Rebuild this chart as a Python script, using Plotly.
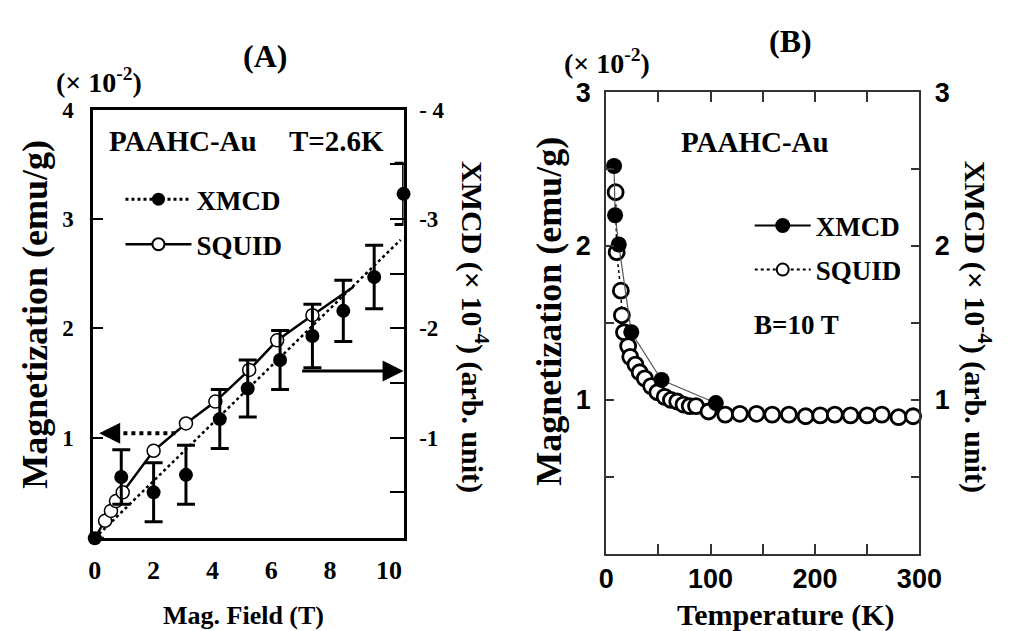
import plotly.graph_objects as go

W, H = 1019, 631
SERIF = "Liberation Serif"
SANS = "Liberation Sans"

# ---------------- Panel A data (Magnetization vs field, T=2.6K) ----------------
xmcd_A_field = [0.0, 0.9, 2.0, 3.1, 4.25, 5.2, 6.3, 7.4, 8.45, 9.5, 10.5]
xmcd_A_mag = [0.08, 0.64, 0.50, 0.66, 1.17, 1.45, 1.71, 1.93, 2.16, 2.47, 3.23]
xmcd_A_err = [0.0, 0.25, 0.27, 0.27, 0.27, 0.26, 0.27, 0.29, 0.28, 0.29, 0.28]

xmcd_fit_field = [0.0, 10.4]
xmcd_fit_mag = [0.08, 2.81]

squid_A_field = [0.35, 0.55, 0.72, 0.95, 2.0, 3.1, 4.1, 5.25, 6.2, 7.4]
squid_A_mag = [0.24, 0.33, 0.42, 0.50, 0.88, 1.13, 1.33, 1.62, 1.89, 2.12]
squid_line_start = (0.0, 0.08)
squid_line_end = (8.8, 2.38)

# ---------------- Panel B data (Magnetization vs temperature, B=10T) ----------------
xmcd_B_T = [7.5, 8.5, 12, 24, 53, 105]
xmcd_B_M = [2.52, 2.20, 2.01, 1.44, 1.13, 0.98]

squid_B_T = [9, 10, 14, 15, 17, 21, 23, 28, 32, 37, 43, 49, 56, 62, 68, 74, 80, 86,
             98, 114, 128, 144, 159, 175, 191, 205, 219, 234, 250, 264, 280, 294]
squid_B_M = [2.35, 1.96, 1.71, 1.55, 1.44, 1.35, 1.28, 1.23, 1.18, 1.14, 1.09, 1.05,
             1.02, 1.00, 0.99, 0.97, 0.96, 0.96, 0.925, 0.905, 0.91, 0.91, 0.905, 0.905,
             0.894, 0.90, 0.905, 0.90, 0.90, 0.905, 0.888, 0.894]

# tick labels
A_x_ticks = [0, 2, 4, 6, 8, 10]
A_left_ticks = [1, 2, 3, 4]
A_right_tickvals = [-0.5, -1, -1.5, -2, -2.5, -3, -3.5, -4]
A_right_ticktext = ["", "-1", "", "-2", "", "-3", "", "- 4"]
B_x_tickvals = [0, 50, 100, 150, 200, 250, 300]
B_x_ticktext = ["0", "", "100", "", "200", "", "300"]
B_y_tickvals = [0.5, 1, 1.5, 2, 2.5, 3]
B_y_ticktext = ["", "1", "", "2", "", "3"]


def px_x(p):
    return p / W


def px_y(p):
    return 1 - p / H


fig = go.Figure()

# ---- Panel A traces ----
fig.add_trace(go.Scatter(
    x=xmcd_fit_field, y=xmcd_fit_mag, mode="lines",
    line=dict(color="black", width=2.5, dash="dot"),
    xaxis="x", yaxis="y", showlegend=False, cliponaxis=False))

sq_line_x = [squid_line_start[0]] + squid_A_field + [squid_line_end[0]]
sq_line_y = [squid_line_start[1]] + squid_A_mag + [squid_line_end[1]]
fig.add_trace(go.Scatter(
    x=sq_line_x, y=sq_line_y, mode="lines",
    line=dict(color="black", width=2.5),
    xaxis="x", yaxis="y", showlegend=False, cliponaxis=False))

fig.add_trace(go.Scatter(
    x=squid_A_field, y=squid_A_mag, mode="markers",
    marker=dict(symbol="circle", size=13, color="white",
                line=dict(color="black", width=1.5)),
    xaxis="x", yaxis="y", showlegend=False, cliponaxis=False))

fig.add_trace(go.Scatter(
    x=xmcd_A_field, y=xmcd_A_mag, mode="markers",
    marker=dict(symbol="circle", size=14, color="black"),
    error_y=dict(type="data", array=xmcd_A_err, visible=True,
                 color="black", thickness=3, width=9),
    xaxis="x", yaxis="y", showlegend=False, cliponaxis=False))

# legend A samples
fig.add_trace(go.Scatter(
    x=[None], y=[None], mode="lines+markers", name="XMCD",
    line=dict(color="black", width=3, dash="dot"),
    marker=dict(symbol="circle", size=13, color="black"),
    xaxis="x", yaxis="y", legend="legend", legendgroup="a1"))
fig.add_trace(go.Scatter(
    x=[None], y=[None], mode="lines+markers", name="SQUID",
    line=dict(color="black", width=2.5),
    marker=dict(symbol="circle", size=12, color="white",
                line=dict(color="black", width=2)),
    xaxis="x", yaxis="y", legend="legend", legendgroup="a2"))

# secondary axis for A (dummy, reversed scale)
fig.add_trace(go.Scatter(x=[None], y=[None], xaxis="x", yaxis="y2",
                         showlegend=False, hoverinfo="skip"))

# ---- Panel B traces ----
fig.add_trace(go.Scatter(
    x=squid_B_T, y=squid_B_M, mode="lines+markers",
    line=dict(color="black", width=1.5, dash="dot"),
    marker=dict(symbol="circle", size=15, color="white",
                line=dict(color="black", width=2.8)),
    xaxis="x3", yaxis="y3", showlegend=False, cliponaxis=False))
fig.add_trace(go.Scatter(
    x=xmcd_B_T, y=xmcd_B_M, mode="lines+markers",
    line=dict(color="#555555", width=1.2),
    marker=dict(symbol="circle", size=16, color="black"),
    xaxis="x3", yaxis="y3", showlegend=False, cliponaxis=False))

fig.add_trace(go.Scatter(
    x=[None], y=[None], mode="lines+markers", name="XMCD",
    line=dict(color="black", width=2),
    marker=dict(symbol="circle", size=15, color="black"),
    xaxis="x3", yaxis="y3", legend="legend2", legendgroup="b1"))
fig.add_trace(go.Scatter(
    x=[None], y=[None], mode="lines+markers", name="SQUID",
    line=dict(color="black", width=2, dash="dot"),
    marker=dict(symbol="circle", size=12, color="white",
                line=dict(color="black", width=2)),
    xaxis="x3", yaxis="y3", legend="legend2", legendgroup="b2"))

fig.add_trace(go.Scatter(x=[None], y=[None], xaxis="x3", yaxis="y4",
                         showlegend=False, hoverinfo="skip"))

A_dom_x = [px_x(88), px_x(408)]
A_dom_y = [px_y(536), px_y(97)]
B_dom_x = [px_x(617), px_x(940)]
B_dom_y = [px_y(552), px_y(79)]

serif_tick = dict(family=SERIF, size=23, color="black", weight="bold")
sans_tick = dict(family=SANS, size=27, color="black", weight="bold")

fig.update_layout(
    width=W, height=H,
    margin=dict(l=0, r=0, t=0, b=0),
    paper_bgcolor="white", plot_bgcolor="white",
    xaxis=dict(domain=A_dom_x, anchor="y", range=[-0.05, 10.5],
               tickvals=A_x_ticks, ticks="", showgrid=False, zeroline=False,
               showline=True, linecolor="black", linewidth=3, mirror=True,
               tickfont=dict(family=SERIF, size=26, color="black", weight="bold"),
               ticklabelstandoff=7),
    yaxis=dict(domain=A_dom_y, anchor="x", range=[0.08, 4.0],
               tickvals=A_left_ticks, ticks="inside", ticklen=10, tickwidth=1.5,
               tickcolor="black", showgrid=False, zeroline=False,
               showline=True, linecolor="black", linewidth=3, mirror=True,
               tickfont=serif_tick, ticklabelstandoff=12),
    yaxis2=dict(overlaying="y", anchor="x", side="right", range=[-0.08, -4.0],
                tickvals=A_right_tickvals, ticktext=A_right_ticktext,
                ticks="inside", ticklen=14, tickwidth=1.5, tickcolor="black",
                showgrid=False, zeroline=False, showline=True,
                linecolor="black", linewidth=3,
                tickfont=serif_tick, ticklabelstandoff=8),
    xaxis3=dict(domain=B_dom_x, anchor="y3", range=[0, 300],
                tickvals=B_x_tickvals, ticktext=B_x_ticktext,
                ticks="inside", ticklen=10, tickwidth=1.5, tickcolor="#333333",
                showgrid=False, zeroline=False, showline=True,
                linecolor="#333333", linewidth=2, mirror="ticks",
                tickfont=sans_tick, ticklabelstandoff=0),
    yaxis3=dict(domain=B_dom_y, anchor="x3", range=[0, 3],
                tickvals=B_y_tickvals, ticktext=B_y_ticktext,
                ticks="inside", ticklen=8, tickwidth=1.5, tickcolor="#333333",
                showgrid=False, zeroline=False, showline=True,
                linecolor="#333333", linewidth=2, mirror=True,
                tickfont=sans_tick, ticklabelstandoff=8),
    yaxis4=dict(overlaying="y3", anchor="x3", side="right", range=[0, 3],
                tickvals=B_y_tickvals, ticktext=B_y_ticktext,
                ticks="inside", ticklen=8, tickwidth=1.5, tickcolor="#333333",
                showgrid=False, zeroline=False, showline=True,
                linecolor="#333333", linewidth=2,
                tickfont=sans_tick, ticklabelstandoff=8),
    legend=dict(x=px_x(116), y=px_y(164), xanchor="left", yanchor="top",
                bgcolor="rgba(0,0,0,0)", borderwidth=0, tracegroupgap=7,
                itemwidth=66,
                font=dict(family=SERIF, size=27, color="black", weight="bold")),
    legend2=dict(x=px_x(765), y=px_y(191), xanchor="left", yanchor="top",
                 bgcolor="rgba(0,0,0,0)", borderwidth=0, tracegroupgap=6,
                 itemwidth=56,
                 font=dict(family=SERIF, size=27, color="black", weight="bold")),
)


def txt(xp, yp, text, size, angle=0, family=SERIF):
    return dict(xref="paper", yref="paper", x=px_x(xp), y=px_y(yp),
                xanchor="center", yanchor="middle", showarrow=False,
                text=text, textangle=angle,
                font=dict(family=family, size=size, color="black", weight="bold"))


annotations = [
    txt(265, 42, "(A)", 32),
    txt(94, 67, "(× 10<sup>-2</sup>)", 28),
    txt(180, 129, "PAAHC-Au", 29),
    txt(339, 129, "T=2.6K", 29),
    txt(28, 307, "Magnetization (emu/g)", 36, angle=-90),
    txt(481, 320, "XMCD (× 10<sup>-4</sup>) (arb. unit)", 30, angle=90),
    txt(243, 615, "Mag. Field (T)", 26),
    txt(807, 27, "(B)", 32),
    txt(618, 48, "(× 10<sup>-2</sup>)", 28),
    txt(770, 130, "PAAHC-Au", 29),
    txt(813, 318, "B=10 T", 27),
    txt(558, 304, "Magnetization (emu/g)", 36, angle=-90),
    txt(1000, 319, "XMCD (× 10<sup>-4</sup>) (arb. unit)", 30, angle=90),
    txt(802, 615, "Temperature (K)", 30),
    # solid arrow pointing to right axis
    dict(xref="x", yref="y", axref="x", ayref="y", x=10.5, y=1.61, ax=7.0, ay=1.61,
         showarrow=True, arrowhead=2, arrowsize=1.4, arrowwidth=3,
         arrowcolor="black", text=""),
    # head of dotted arrow pointing to left axis
    dict(xref="x", yref="y", axref="x", ayref="y", x=0.15, y=1.04, ax=0.75, ay=1.04,
         showarrow=True, arrowhead=2, arrowsize=1.4, arrowwidth=3,
         arrowcolor="black", text=""),
]

shapes = [
    dict(type="line", xref="x", yref="y", x0=0.7, x1=2.8, y0=1.04, y1=1.04,
         line=dict(color="black", width=4, dash="dot")),
]

fig.update_layout(annotations=annotations, shapes=shapes)

fig.write_html("out.html")
